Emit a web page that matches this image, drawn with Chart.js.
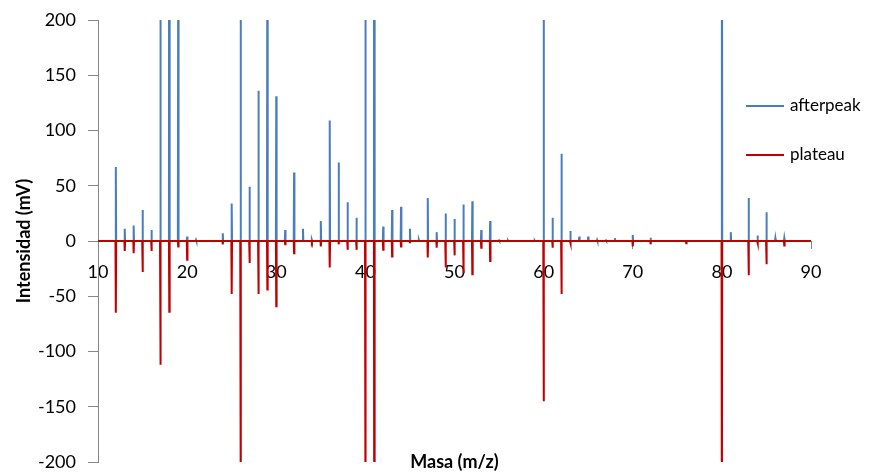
<!DOCTYPE html>
<html>
<head>
<meta charset="utf-8">
<script src="https://cdn.jsdelivr.net/npm/chart.js@4.4.1/dist/chart.umd.min.js"></script>
<style>
  body { margin: 0; background: #fff; }
</style>
</head>
<body>
<canvas id="myChart" width="877" height="475"></canvas>
<script>

// data (mass, intensity in mV)
const masas     = [12, 13, 14, 15, 16, 17, 18, 19, 20, 21, 24, 25, 26, 27, 28, 29, 30, 31, 32, 33, 34, 35, 36, 37, 38, 39, 40, 41, 42, 43, 44, 45, 46, 47, 48, 49, 50, 51, 52, 53, 54, 55, 56, 59, 60, 61, 62, 63, 64, 65, 66, 67, 68, 70, 72, 73, 76, 80, 81, 83, 84, 85, 86, 87];
const afterpeak = [67, 11, 14, 28, 10, 450, 900, 260, 4, 1, 7, 34, 320, 49, 136, 290, 131, 10, 62, 11, 1, 18, 109, 71, 35, 21, 900, 700, 13, 28, 31, 11, 1, 39, 8, 25, 20, 33, 36, 10, 18, 0.5, 0.5, 0.5, 400, 21, 79, 9, 4, 4, 1, 0.5, 2.5, 5.5, 3, 0.5, 0, 500, 8, 39, 5, 26, 2.5, 2.5];
const plateau   = [-65, -9, -11, -28, -9, -112, -64, -5, -17, 0, -3, -48, -260, -20, -48, -44, -59, -3, -11, 0, -1, -5, -24, -3, -8, -8, -300, -300, -8, -14, -5, -2, 0, -15, -6, -24, -13, -29, -30, -6, -18, 0, 0, 0, -145, -6, -48, -2, 0, 0, 0, 0, 0, -5, -3, 0, -2, -260, 0, -31, -2, -21, 0, -4];

const xMin = 10, xMax = 90;
const xTicks = [10, 20, 30, 40, 50, 60, 70, 80, 90];
const yTicks = [-200, -150, -100, -50, 0, 50, 100, 150, 200];

const xTitle = "Masa (m/z)";
const yTitle = "Intensidad (mV)";

// each peak becomes a narrow spike on the zero line
function espectro(valores) {
  let pts = [{x: xMin, y: 0}];
  masas.forEach(function(m, i) {
    pts.push({x: m - 0.04, y: 0});
    pts.push({x: m, y: valores[i]});
    pts.push({x: m + 0.04, y: 0});
  });
  pts.push({x: xMax, y: 0});
  return pts;
}

const font = "Lato";

// axis title under the plot + legend lines on the right
const extras = {
  id: "extras",
  afterDraw(chart) {
    const ctx = chart.ctx;
    const area = chart.chartArea;
    ctx.save();
    ctx.fillStyle = "#000";
    ctx.font = "bold 18px " + font;
    ctx.textAlign = "center";
    ctx.textBaseline = "middle";
    ctx.fillText(xTitle, (area.left + area.right) / 2, area.bottom);

    chart.data.datasets.forEach(function(ds, i) {
      let y = 106 + i * 49;
      ctx.strokeStyle = ds.borderColor;
      ctx.lineWidth = 2;
      ctx.beginPath();
      ctx.moveTo(746, y);
      ctx.lineTo(784, y);
      ctx.stroke();
      ctx.font = "17px " + font;
      ctx.textAlign = "left";
      ctx.fillText(ds.label, 790, y);
    });
    ctx.restore();
  }
};

let myChart = document.getElementById("myChart").getContext("2d");

let chart = new Chart(myChart, {
  type: "line",
  data: {
    datasets: [{
      label: "afterpeak",
      data: espectro(afterpeak),
      borderColor: "#4A7EBB",
      borderWidth: 2,
      pointRadius: 0,
      order: 1
    }, {
      label: "plateau",
      data: espectro(plateau),
      borderColor: "#C00000",
      borderWidth: 2,
      pointRadius: 0,
      order: 0
    }]
  },
  options: {
    responsive: false,
    animation: false,
    layout: { padding: { left: 0, right: 66, top: 20, bottom: 13 } },
    plugins: {
      legend: { display: false },
      tooltip: { enabled: false }
    },
    scales: {
      x: {
        type: "linear",
        min: xMin,
        max: xMax,
        position: { y: 0 },
        afterBuildTicks: function(s) { s.ticks = xTicks.map(v => ({value: v})); },
        afterFit: function(s) { s.paddingLeft = 0; s.paddingRight = 0; },
        ticks: { color: "#000", font: { family: font, size: 18 }, padding: 13, maxRotation: 0 },
        grid: { drawOnChartArea: false, tickLength: 7, color: "#868686" },
        border: { color: "#868686" }
      },
      y: {
        min: -200,
        max: 200,
        afterBuildTicks: function(s) { s.ticks = yTicks.map(v => ({value: v})); },
        afterFit: function(s) { s.width = 98; s.paddingTop = 0; s.paddingBottom = 0; },
        ticks: { color: "#000", font: { family: font, size: 18 }, padding: 12 },
        grid: { drawOnChartArea: false, tickLength: 10, color: "#868686" },
        border: { color: "#868686" },
        title: {
          display: true,
          text: yTitle,
          color: "#000",
          font: { family: font, size: 18, weight: "bold" },
          padding: { top: 13, bottom: 0 }
        }
      }
    }
  },
  plugins: [extras]
});

</script>
</body>
</html>
